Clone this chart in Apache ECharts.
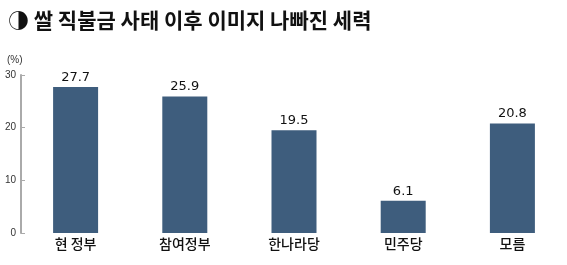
<!DOCTYPE html>
<html><head><meta charset="utf-8">
<script src="https://cdn.jsdelivr.net/npm/echarts@6/dist/echarts.min.js"></script>
<style>html,body{margin:0;padding:0;background:#fff}#c{width:567px;height:265px}</style>
</head><body><div id="c"></div>
<script>
const categories = ['현 정부', '참여정부', '한나라당', '민주당', '모름'];
const values = [27.7, 25.9, 19.5, 6.1, 20.8];
const yTicks = [0, 10, 20, 30];
const titleText = '◑ 쌀 직불금 사태 이후 이미지 나빠진 세력';
const unitText = '(%)';

const chart = echarts.init(document.getElementById('c'), null, {renderer: 'canvas'});
chart.setOption({
  animation: false,
  backgroundColor: '#fff',
  title: {
    text: titleText, left: 3, top: 5,
    textStyle: {fontFamily: 'Noto Sans CJK KR', fontSize: 21, fontWeight: 'bold', color: '#111'}
  },
  graphic: [{
    type: 'text', left: 7, top: 55,
    style: {text: unitText, font: '10px "Liberation Sans", Arial', fill: '#333'}
  }],
  grid: {left: 21, right: -3, top: 75, bottom: 32, containLabel: false},
  xAxis: {
    type: 'category', data: categories,
    axisLine: {show: false}, axisTick: {show: false},
    axisLabel: {fontFamily: 'Noto Sans CJK KR', fontSize: 14, fontWeight: 500, color: '#111', margin: 4}
  },
  yAxis: {
    type: 'value', min: yTicks[0], max: yTicks[yTicks.length - 1], interval: 10,
    axisLine: {show: true, lineStyle: {color: '#aaa', width: 2}},
    axisTick: {show: true, inside: true, length: 4, lineStyle: {color: '#aaa', width: 1}},
    splitLine: {show: false},
    axisLabel: {fontFamily: 'Liberation Sans', fontSize: 10, color: '#333', margin: 5}
  },
  series: [{
    type: 'bar', data: values, barWidth: 45,
    itemStyle: {color: '#3e5d7d'},
    label: {show: true, position: 'top', distance: 3, formatter: p => p.value.toFixed(1),
      fontFamily: 'DejaVu Sans', fontSize: 13, color: '#111'}
  }]
});
</script></body></html>
